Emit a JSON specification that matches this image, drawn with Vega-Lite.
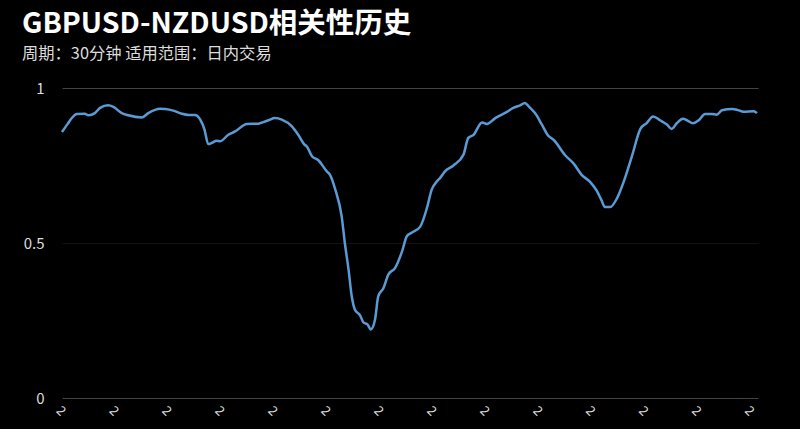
{
  "$schema": "https://vega.github.io/schema/vega-lite/v6.json",
  "width": 696,
  "height": 310,
  "autosize": "none",
  "padding": {"left": 62, "top": 88, "right": 42, "bottom": 31},
  "background": "#000000",
  "title": {
    "text": "GBPUSD-NZDUSD相关性历史",
    "subtitle": "周期：30分钟  适用范围：日内交易",
    "anchor": "start",
    "frame": "group",
    "dx": -40,
    "offset": 19,
    "font": "Noto Sans CJK SC",
    "fontSize": 28.5,
    "fontWeight": "bold",
    "color": "#ffffff",
    "subtitleFont": "Noto Sans CJK SC",
    "subtitleFontSize": 16.3,
    "subtitleColor": "#dddddd",
    "subtitlePadding": 7
  },
  "config": {
    "view": {"stroke": null},
    "axis": {"labelFont": "Noto Sans CJK SC"}
  },
  "data": {
    "values": [
      {"i": 0.0, "v": 0.858}, {"i": 1.1, "v": 0.885}, {"i": 1.9, "v": 0.904}, {"i": 2.8, "v": 0.916},
      {"i": 4.3, "v": 0.917}, {"i": 5.0, "v": 0.912}, {"i": 6.2, "v": 0.919}, {"i": 7.2, "v": 0.936},
      {"i": 8.7, "v": 0.944}, {"i": 9.7, "v": 0.939}, {"i": 11.3, "v": 0.919}, {"i": 12.5, "v": 0.912},
      {"i": 15.1, "v": 0.905}, {"i": 16.3, "v": 0.919}, {"i": 18.5, "v": 0.933}, {"i": 19.5, "v": 0.932},
      {"i": 21.0, "v": 0.927}, {"i": 22.6, "v": 0.917}, {"i": 23.9, "v": 0.913}, {"i": 25.1, "v": 0.913},
      {"i": 26.1, "v": 0.898}, {"i": 26.9, "v": 0.866}, {"i": 27.6, "v": 0.819}, {"i": 28.3, "v": 0.823},
      {"i": 29.2, "v": 0.830}, {"i": 29.8, "v": 0.828}, {"i": 31.4, "v": 0.849}, {"i": 32.7, "v": 0.860},
      {"i": 34.9, "v": 0.884}, {"i": 37.1, "v": 0.885}, {"i": 38.0, "v": 0.890}, {"i": 39.0, "v": 0.896},
      {"i": 40.2, "v": 0.903}, {"i": 41.5, "v": 0.898}, {"i": 43.4, "v": 0.876}, {"i": 44.6, "v": 0.849},
      {"i": 45.8, "v": 0.817}, {"i": 46.2, "v": 0.812}, {"i": 47.2, "v": 0.780}, {"i": 48.4, "v": 0.767},
      {"i": 50.0, "v": 0.731}, {"i": 50.6, "v": 0.720}, {"i": 51.6, "v": 0.672}, {"i": 52.8, "v": 0.586},
      {"i": 53.4, "v": 0.500}, {"i": 54.1, "v": 0.414}, {"i": 54.7, "v": 0.328}, {"i": 55.3, "v": 0.285},
      {"i": 56.3, "v": 0.266}, {"i": 56.9, "v": 0.244}, {"i": 57.7, "v": 0.237}, {"i": 58.3, "v": 0.221},
      {"i": 59.1, "v": 0.253}, {"i": 59.7, "v": 0.328}, {"i": 60.7, "v": 0.355}, {"i": 61.6, "v": 0.398},
      {"i": 62.9, "v": 0.420}, {"i": 64.2, "v": 0.473}, {"i": 65.1, "v": 0.522}, {"i": 66.0, "v": 0.533},
      {"i": 67.6, "v": 0.552}, {"i": 68.9, "v": 0.613}, {"i": 69.8, "v": 0.672}, {"i": 70.8, "v": 0.699},
      {"i": 71.4, "v": 0.710}, {"i": 72.3, "v": 0.731}, {"i": 73.9, "v": 0.750}, {"i": 75.8, "v": 0.785},
      {"i": 76.7, "v": 0.839}, {"i": 77.7, "v": 0.849}, {"i": 79.3, "v": 0.889}, {"i": 80.2, "v": 0.884},
      {"i": 81.8, "v": 0.903}, {"i": 84.0, "v": 0.923}, {"i": 85.2, "v": 0.936}, {"i": 86.5, "v": 0.944},
      {"i": 87.4, "v": 0.952}, {"i": 88.1, "v": 0.941}, {"i": 89.3, "v": 0.919}, {"i": 90.6, "v": 0.882},
      {"i": 91.8, "v": 0.846}, {"i": 92.8, "v": 0.833}, {"i": 95.0, "v": 0.783}, {"i": 96.6, "v": 0.756},
      {"i": 98.1, "v": 0.720}, {"i": 99.7, "v": 0.697}, {"i": 101.0, "v": 0.667}, {"i": 101.8, "v": 0.640},
      {"i": 102.5, "v": 0.616}, {"i": 103.5, "v": 0.616}, {"i": 104.8, "v": 0.645}, {"i": 106.3, "v": 0.710},
      {"i": 107.6, "v": 0.780}, {"i": 109.2, "v": 0.868}, {"i": 110.4, "v": 0.887}, {"i": 111.6, "v": 0.908},
      {"i": 112.9, "v": 0.896}, {"i": 114.2, "v": 0.882}, {"i": 115.1, "v": 0.868}, {"i": 116.1, "v": 0.887},
      {"i": 117.2, "v": 0.901}, {"i": 118.1, "v": 0.895}, {"i": 119.1, "v": 0.886}, {"i": 120.2, "v": 0.896},
      {"i": 121.4, "v": 0.916}, {"i": 122.7, "v": 0.916}, {"i": 123.6, "v": 0.914}, {"i": 124.6, "v": 0.928},
      {"i": 126.5, "v": 0.932}, {"i": 127.4, "v": 0.930}, {"i": 128.7, "v": 0.923}, {"i": 130.6, "v": 0.925},
      {"i": 131.2, "v": 0.919}
    ]
  },
  "mark": {"type": "line", "color": "#5b9bd5", "strokeWidth": 2.5, "interpolate": "monotone"},
  "encoding": {
    "x": {
      "field": "i",
      "type": "quantitative",
      "scale": {"domain": [0, 131.4], "nice": false, "zero": false},
      "axis": {
        "title": null,
        "values": [0, 10, 20, 30, 40, 50, 60, 70, 80, 90, 100, 110, 120, 130],
        "labelExpr": "'2'",
        "labelAngle": 45,
        "labelColor": "#dddddd",
        "labelFontSize": 13,
        "labelPadding": 6,
        "ticks": false,
        "domain": false,
        "grid": false
      }
    },
    "y": {
      "field": "v",
      "type": "quantitative",
      "scale": {"domain": [0, 1], "nice": false},
      "axis": {
        "title": null,
        "values": [0, 0.5, 1],
        "format": "~g",
        "labelColor": "#dddddd",
        "labelFontSize": 15,
        "labelPadding": 18,
        "ticks": false,
        "domain": false,
        "grid": true,
        "gridColor": {"condition": {"test": "datum.value === 0.5", "value": "#121212"}, "value": "#444444"},
        "gridWidth": 1
      }
    }
  }
}
